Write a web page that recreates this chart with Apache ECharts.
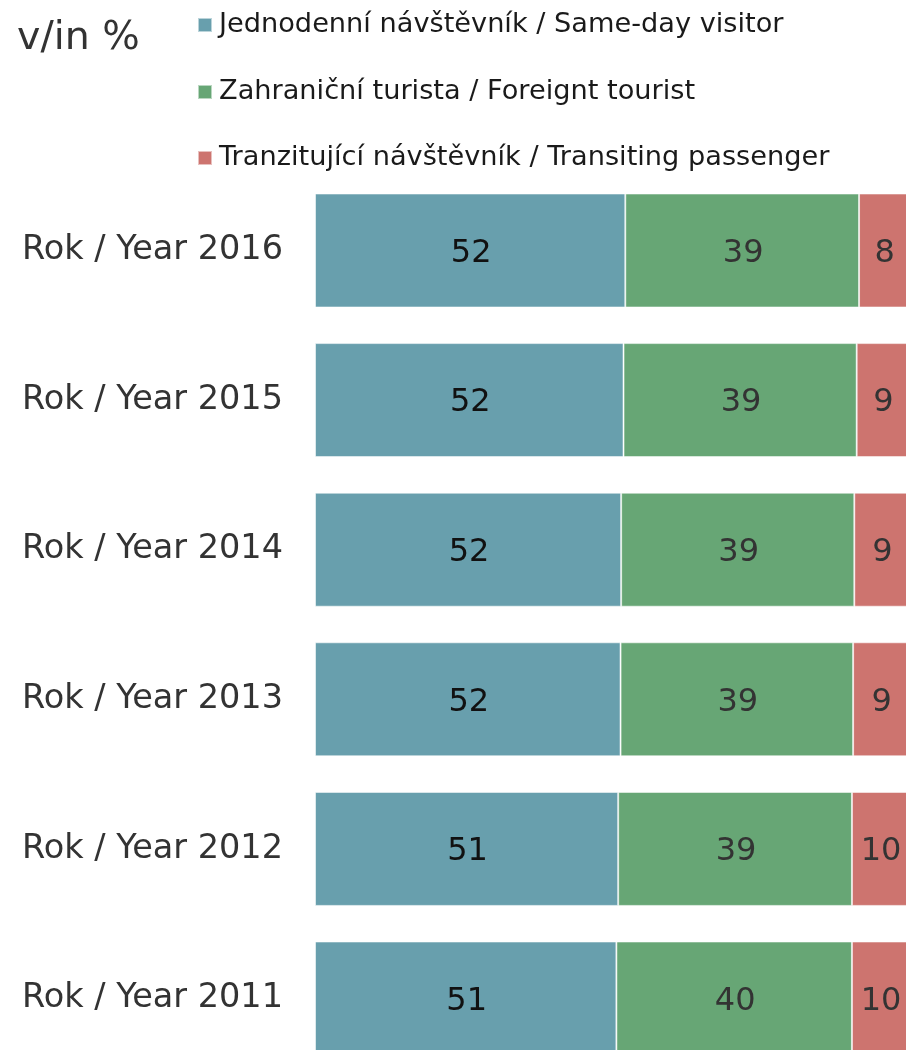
<!DOCTYPE html>
<html>
<head>
<meta charset="utf-8">
<script src="https://cdn.jsdelivr.net/npm/echarts@6/dist/echarts.min.js"></script>
<style>
html,body{margin:0;padding:0;background:#fff;overflow:hidden;}
#chart{width:930px;height:1090px;}
</style>
</head>
<body>
<div id="chart"></div>
<script>
const categories = ['Rok / Year 2016','Rok / Year 2015','Rok / Year 2014','Rok / Year 2013','Rok / Year 2012','Rok / Year 2011'];
const seriesNames = ['Jednodenní návštěvník / Same-day visitor','Zahraniční turista / Foreignt tourist','Tranzitující návštěvník / Transiting passenger'];
const sameDay = [52.3, 52.0, 51.6, 51.5, 51.1, 50.8];
const foreign = [39.4, 39.3, 39.3, 39.2, 39.4, 39.7];
const transit = [8.3, 8.7, 9.1, 9.3, 9.5, 9.5];
const colors = ['#689fad','#67a675','#cd746f'];
const FONT = '"DejaVu Sans", Verdana, sans-serif';

const chart = echarts.init(document.getElementById('chart'), null, {renderer:'canvas'});
function mk(name, data, color, labelColor){
  return {
    name: name, type:'bar', stack:'t', data: data, barWidth: 114,
    itemStyle:{color: color, borderColor:'rgba(255,255,255,0.55)', borderWidth:1},
    label:{show:true, position:'inside', offset:[1,3], fontFamily:FONT, fontSize:32, color:labelColor,
      formatter: p => Math.round(p.value)},
    emphasis:{disabled:true}
  };
}
function lg(i, top){
  return {
    data:[seriesNames[i]], left:197, top:top, orient:'vertical', padding:0,
    itemWidth:14, itemHeight:14, icon:'rect', selectedMode:false,
    textStyle:{fontFamily:FONT, fontSize:27.2, color:'#1a1a1a', lineHeight:30, padding:[0,0,0,2]}
  };
}
chart.setOption({
  animation:false,
  title:{text:'v/in %', left:17, top:19, padding:0, textStyle:{fontFamily:FONT, fontSize:39.5, fontWeight:'normal', color:'#333'}},
  legend:[lg(0,10), lg(1,77), lg(2,143)],
  grid:{left:315, top:175.7, width:593.3, height:897.6, containLabel:false},
  xAxis:{type:'value', min:0, max:100, show:false},
  yAxis:{type:'category', data:categories, inverse:true,
    axisLine:{show:false}, axisTick:{show:false}, splitLine:{show:false},
    axisLabel:{fontFamily:FONT, fontSize:33.5, color:'#333', margin:32, padding:[4,0,0,0]}},
  series:[mk(seriesNames[0], sameDay, colors[0], '#111'), mk(seriesNames[1], foreign, colors[1], '#333'), mk(seriesNames[2], transit, colors[2], '#333')]
});
</script>
</body>
</html>
